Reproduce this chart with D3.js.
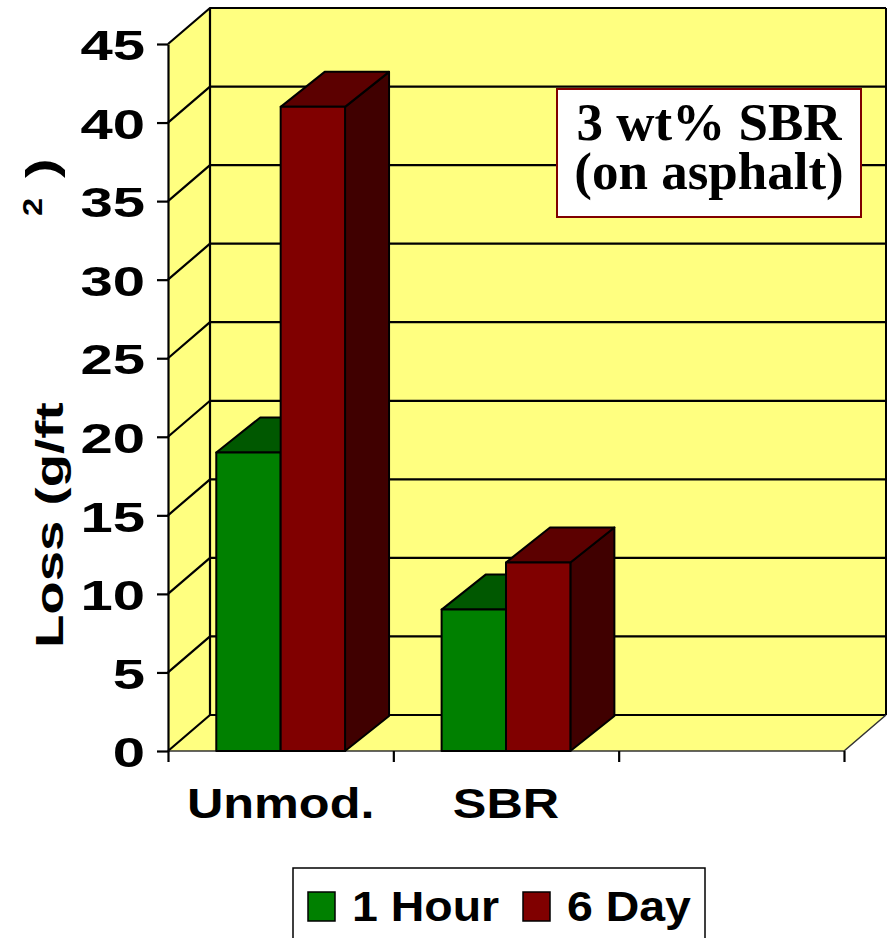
<!DOCTYPE html>
<html>
<head>
<meta charset="utf-8">
<script src="https://cdn.jsdelivr.net/npm/d3@7/dist/d3.min.js"></script>
<style>
  body { margin: 0; background: #fff; }
  svg { display: block; }
</style>
</head>
<body>
<svg id="chart"></svg>
<script>
// data
var categories = ["Unmod.", "SBR", ""];
var series = ["1 Hour", "6 Day"];
var hourValues = [19, 9, null];
var dayValues = [41, 12, null];
var yTicks = [0, 5, 10, 15, 20, 25, 30, 35, 40, 45];
var noteLines = ["3 wt% SBR", "(on asphalt)"];

var width = 888, height = 938;
var front = {left: 168, right: 844, top: 44, bottom: 751};
var wallDx = 42, wallDy = -36;   // depth of the walls
var barDx = 44, barDy = -35;     // depth of the columns

var colors = {
  "1 Hour": {front: "#008000", top: "#005800", side: "#004000"},
  "6 Day":  {front: "#800000", top: "#5c0000", side: "#400000"}
};

var svg = d3.select("#chart")
    .attr("width", width)
    .attr("height", height)
    .style("font-family", "'Liberation Sans', Arial, sans-serif");

var y = d3.scaleLinear()
    .domain([0, 45])
    .range([front.bottom, front.top]);

var x = d3.scaleBand()
    .domain(categories)
    .range([front.left, front.right]);

// two columns per category, gap width 150%
var xs = d3.scaleBand()
    .domain(series)
    .range([0, x.bandwidth()])
    .paddingInner(0)
    .paddingOuter(0.75);

function pts(a) { return a.map(function(p) { return p.join(","); }).join(" "); }

/** walls and floor **/
var walls = svg.append("g");
var backL = front.left + wallDx, backR = front.right + wallDx;

walls.append("polygon")   // back wall
    .attr("points", pts([[backL, y(45) + wallDy], [backR, y(45) + wallDy], [backR, y(0) + wallDy], [backL, y(0) + wallDy]]))
    .attr("fill", "#ffff80");
walls.append("polygon")   // side wall
    .attr("points", pts([[front.left, y(0)], [backL, y(0) + wallDy], [backL, y(45) + wallDy], [front.left, y(45)]]))
    .attr("fill", "#ffff80");
walls.append("polygon")   // floor
    .attr("points", pts([[front.left, y(0)], [front.right, y(0)], [backR, y(0) + wallDy], [backL, y(0) + wallDy]]))
    .attr("fill", "#ffff80");

// gridlines
yTicks.forEach(function(v) {
  walls.append("polyline")
      .attr("points", pts([[front.left, y(v)], [backL, y(v) + wallDy], [backR, y(v) + wallDy]]))
      .attr("fill", "none")
      .attr("stroke", "#000")
      .attr("stroke-width", 2.2);
});
walls.append("line")
    .attr("x1", backL).attr("x2", backL)
    .attr("y1", y(45) + wallDy).attr("y2", y(0) + wallDy)
    .attr("stroke", "#000").attr("stroke-width", 2.2);
walls.append("line")
    .attr("x1", backR).attr("x2", backR)
    .attr("y1", y(45) + wallDy).attr("y2", y(0) + wallDy)
    .attr("stroke", "#000").attr("stroke-width", 2);
walls.append("polyline")
    .attr("points", pts([[front.left, y(0)], [front.right, y(0)], [backR, y(0) + wallDy]]))
    .attr("fill", "none")
    .attr("stroke", "#333").attr("stroke-width", 1.5);

/** columns **/
var rows = [];
categories.forEach(function(c, i) {
  if (hourValues[i] != null) rows.push({cat: c, s: "1 Hour", v: hourValues[i]});
  if (dayValues[i] != null) rows.push({cat: c, s: "6 Day", v: dayValues[i]});
});

var bars = svg.append("g")
    .attr("stroke", "#000")
    .attr("stroke-width", 2)
    .attr("stroke-linejoin", "round");

rows.forEach(function(d) {
  var x0 = x(d.cat) + xs(d.s), w = xs.bandwidth();
  var yt = y(d.v), yb = y(0);
  var g = bars.append("g");
  g.append("polygon")
      .attr("points", pts([[x0 + w, yt], [x0 + w + barDx, yt + barDy], [x0 + w + barDx, yb + barDy], [x0 + w, yb]]))
      .attr("fill", colors[d.s].side);
  g.append("polygon")
      .attr("points", pts([[x0, yt], [x0 + barDx, yt + barDy], [x0 + w + barDx, yt + barDy], [x0 + w, yt]]))
      .attr("fill", colors[d.s].top);
  g.append("rect")
      .attr("x", x0).attr("y", yt)
      .attr("width", w).attr("height", yb - yt)
      .attr("fill", colors[d.s].front);
});

/** axes **/
var yAxis = d3.axisLeft(y).tickValues(yTicks).tickSizeInner(11).tickSizeOuter(0).tickPadding(14);
var gy = svg.append("g")
    .attr("transform", "translate(" + front.left + ",0)")
    .call(yAxis);
gy.select(".domain").attr("stroke", "#000").attr("stroke-width", 2.2);
gy.selectAll(".tick line").attr("stroke", "#000").attr("stroke-width", 2.2);
gy.selectAll(".tick text")
    .attr("fill", "#000")
    .attr("font-size", 43)
    .attr("font-weight", "bold")
    .attr("x", null)
    .attr("dy", null)
    .attr("dominant-baseline", "central")
    .attr("transform", "translate(-23,1) scale(1.35,1)");

var xEdge = d3.scaleLinear().domain([0, categories.length]).range([front.left, front.right]);
var xAxis = d3.axisBottom(xEdge).tickValues(d3.range(0, categories.length + 1)).tickFormat("").tickSizeInner(11).tickSizeOuter(0);
var gx = svg.append("g")
    .attr("transform", "translate(0," + front.bottom + ")")
    .call(xAxis);
gx.select(".domain").remove();
gx.selectAll(".tick line").attr("stroke", "#000").attr("stroke-width", 2.2);

svg.append("g").selectAll("text")
    .data(categories.filter(function(c) { return c !== ""; }))
    .enter().append("text")
    .attr("transform", function(c) { return "translate(" + (x(c) + x.bandwidth() / 2) + ",818) scale(1.2,1)"; })
    .attr("text-anchor", "middle")
    .attr("font-size", 42)
    .attr("font-weight", "bold")
    .text(function(c) { return c; });

// axis title
svg.append("text")
    .attr("transform", "translate(63,648) rotate(-90) scale(1.4,1)")
    .attr("font-size", 39)
    .attr("font-weight", "bold")
    .text("Loss (g/ft");
svg.append("text")
    .attr("transform", "translate(42,216) rotate(-90) scale(1.2,1)")
    .attr("font-size", 27)
    .attr("font-weight", "bold")
    .text("2");
svg.append("text")
    .attr("transform", "translate(56,178) rotate(-90) scale(1.4,1)")
    .attr("font-size", 42)
    .attr("font-weight", "bold")
    .text(")");

/** note box **/
var note = svg.append("g");
note.append("rect")
    .attr("x", 557).attr("y", 89)
    .attr("width", 304).attr("height", 128)
    .attr("fill", "#fff")
    .attr("stroke", "#800000")
    .attr("stroke-width", 2);
note.selectAll("text")
    .data(noteLines)
    .enter().append("text")
    .attr("x", 709)
    .attr("y", function(d, i) { return 140 + i * 49; })
    .attr("text-anchor", "middle")
    .attr("font-family", "'Liberation Serif', 'Times New Roman', serif")
    .attr("font-weight", "bold")
    .attr("font-size", 53)
    .text(function(d) { return d; });

/** legend **/
var legend = svg.append("g");
legend.append("rect")
    .attr("x", 293).attr("y", 868)
    .attr("width", 412).attr("height", 90)
    .attr("fill", "#fff")
    .attr("stroke", "#000")
    .attr("stroke-width", 1.5);
var legendX = [308, 523];
series.forEach(function(s, i) {
  legend.append("rect")
      .attr("x", legendX[i]).attr("y", 892)
      .attr("width", 27).attr("height", 29)
      .attr("fill", colors[s].front)
      .attr("stroke", "#000")
      .attr("stroke-width", 1.5);
  legend.append("text")
      .attr("transform", "translate(" + (legendX[i] + 44) + ",921) scale(1.08,1)")
      .attr("font-size", 43)
      .attr("font-weight", "bold")
      .text(s);
});
</script>
</body>
</html>
